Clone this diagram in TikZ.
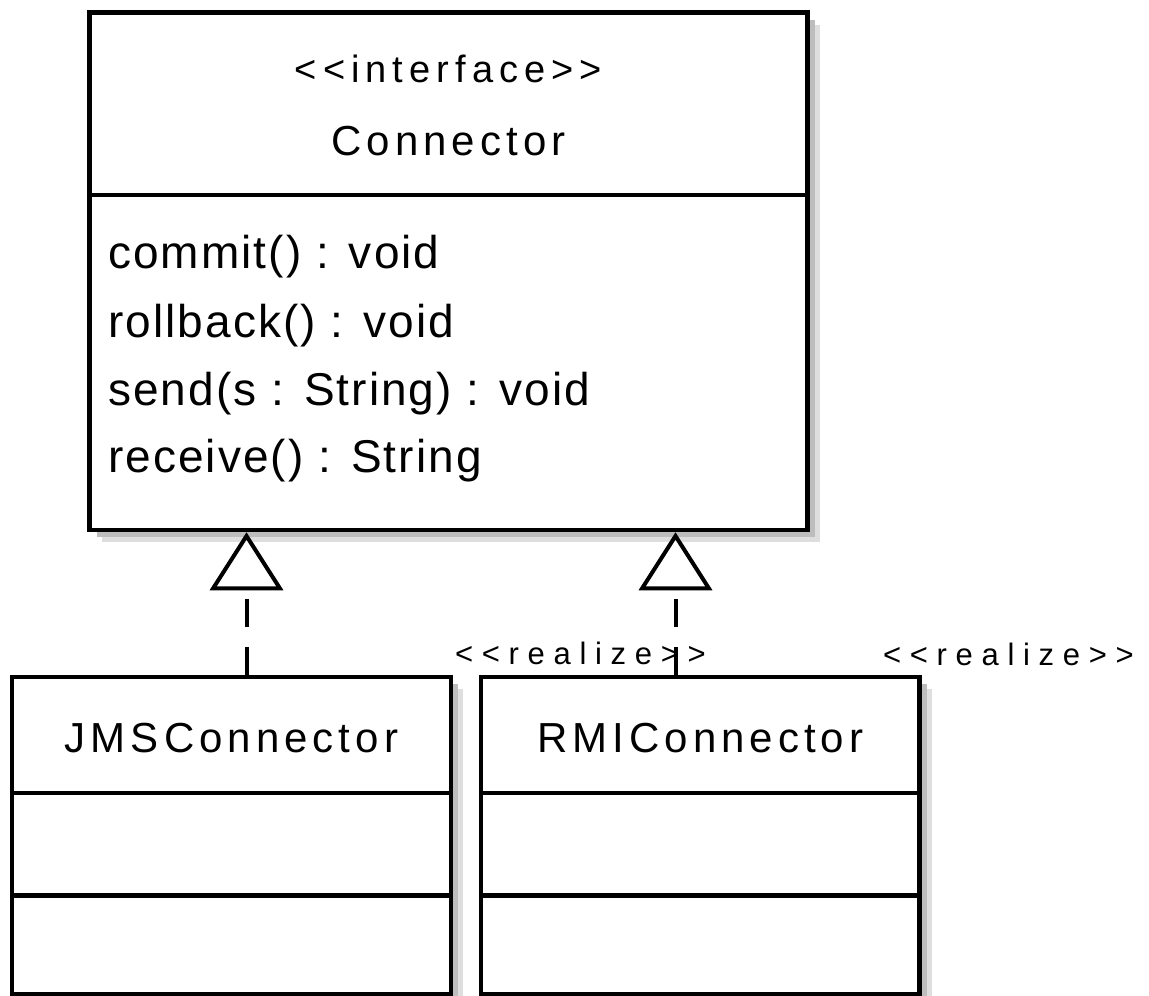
\documentclass[tikz,border=0pt]{standalone}
\usepackage{fontspec}
% plain family without the TeX ligature mapping, so that << stays two characters
\newfontfamily\umlfont{Liberation Sans}
\usetikzlibrary{arrows.meta,shadows,calc}
\definecolor{shadowdark}{HTML}{BDBDBD}
\definecolor{shadowlight}{HTML}{DEDEDE}
\begin{document}
\begin{tikzpicture}[x=1pt,y=-1pt,
  classbox/.style={draw=black, line width=4.5pt, fill=white, rectangle, inner sep=0pt,
    general shadow={shadow xshift=12.25pt, shadow yshift=-12.25pt, fill=shadowlight},
    general shadow={shadow xshift=7.25pt, shadow yshift=-7.25pt, fill=shadowdark}},
  divider/.style={draw=black, line width=4.5pt},
  stereotype/.style={inner sep=0pt, anchor=base,
    font=\umlfont\fontsize{38}{40}\selectfont\addfontfeatures{LetterSpace=16}},
  classname/.style={inner sep=0pt, anchor=base,
    font=\umlfont\fontsize{42}{44}\selectfont\addfontfeatures{LetterSpace=12}},
  operation/.style={inner sep=0pt, anchor=base west,
    font=\umlfont\fontsize{46}{48}\selectfont\addfontfeatures{LetterSpace=4.5}},
  edgelabel/.style={inner sep=0pt, anchor=base west,
    font=\umlfont\fontsize{31}{33}\selectfont\addfontfeatures{LetterSpace=28}},
  realization/.style={line width=4pt, dash pattern=on 28pt off 20pt,
    -{Triangle[open, fill=white, length=58pt, width=73pt]}}
]
\useasboundingbox (0,0) rectangle (1149,996);

% interface box
\node[classbox, minimum width=718pt, minimum height=517.5pt] (conn) at (448.5,271.25) {};
\draw[divider] ($(conn.north west)+(0,184.5)$) -- ($(conn.north east)+(0,184.5)$);
\node[stereotype] (connster) at (448.5,82) {<<interface>>};
\node[classname] (connname) at (448.5,155) {Connector};
\node[operation] (op1) at (108,268) {commit() : void};
\node[operation] (op2) at (108,337) {rollback() : void};
\node[operation] (op3) at (108,405) {send(s : String) : void};
\node[operation] (op4) at (108,472) {receive() : String};

% implementing classes
\node[classbox, minimum width=439pt, minimum height=317pt] (jms) at (231.5,835.5) {};
\draw[divider] ($(jms.north west)+(0,118)$) -- ($(jms.north east)+(0,118)$);
\draw[divider] ($(jms.north west)+(0,220.5)$) -- ($(jms.north east)+(0,220.5)$);
\node[classname] (jmsname) at (231.5,752) {JMSConnector};

\node[classbox, minimum width=438.5pt, minimum height=317pt] (rmi) at (700.25,835.5) {};
\draw[divider] ($(rmi.north west)+(0,118)$) -- ($(rmi.north east)+(0,118)$);
\draw[divider] ($(rmi.north west)+(0,220.5)$) -- ($(rmi.north east)+(0,220.5)$);
\node[classname] (rminame) at (700.25,752) {RMIConnector};

% realization connectors
\coordinate (jmsfoot) at ($(jms.north)+(15,0)$);
\coordinate (rmifoot) at ($(rmi.north)+(-24.75,0)$);
\draw[realization] (jmsfoot) -- (jmsfoot |- conn.south);
\draw[realization] (rmifoot) -- (rmifoot |- conn.south);

\node[edgelabel] (lab1) at (455,664) {<<realize>>};
\node[edgelabel] (lab2) at (883,665) {<<realize>>};
\end{tikzpicture}
\end{document}
